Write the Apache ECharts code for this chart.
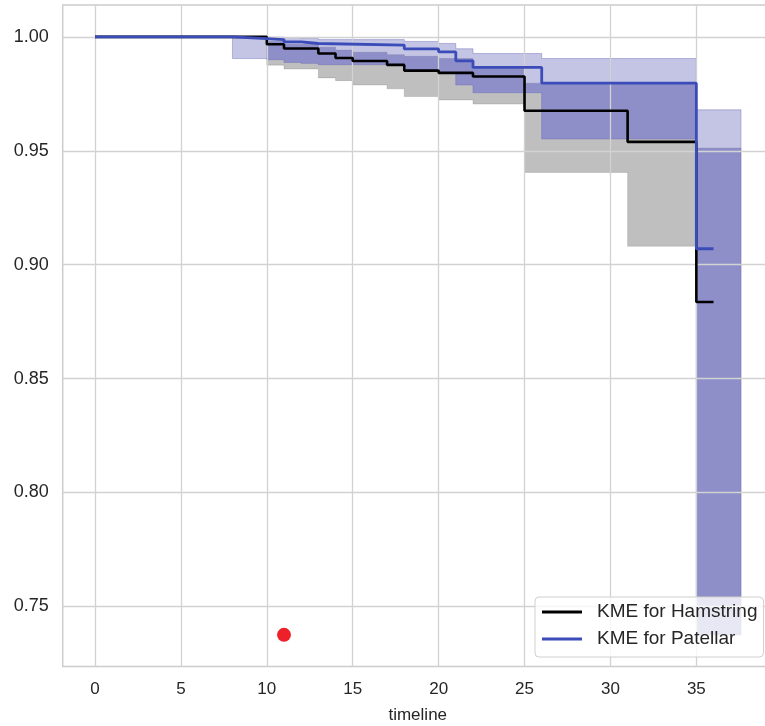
<!DOCTYPE html>
<html><head><meta charset="utf-8">
<script src="https://cdn.jsdelivr.net/npm/echarts@6/dist/echarts.min.js"></script>
<style>html,body{margin:0;padding:0;background:#fff}#chart{width:765px;height:726px}</style>
</head><body><div id="chart"></div>
<script>
// ---- data ----
const xTickValues = [0, 5, 10, 15, 20, 25, 30, 35];
const yTickValues = [0.75, 0.80, 0.85, 0.90, 0.95, 1.00];

const hamTimes = [0, 10, 11, 13, 14, 15, 17, 18, 20, 22, 25, 31, 35, 36];
const hamSurv  = [1.0, 0.9968, 0.9949, 0.9927, 0.9907, 0.9894, 0.9877, 0.9852, 0.9842, 0.9826, 0.9676, 0.9539, 0.8836, 0.8836];

const patTimes = [0, 8, 10, 11, 12, 13, 18, 20, 21, 22, 26, 35, 36];
const patSurv  = [1.0, 0.9992, 0.9988, 0.9978, 0.9971, 0.9964, 0.9947, 0.9934, 0.9895, 0.9866, 0.9797, 0.9070, 0.9070];

const hamCiTimes = [10, 11, 13, 14, 15, 17, 18, 20, 22, 25, 31, 35, 37.6];
const hamCiLower = [0.9876, 0.9859, 0.9820, 0.9808, 0.9789, 0.9772, 0.9738, 0.9723, 0.9705, 0.9405, 0.9081, 0.7375];
const hamCiUpper = [0.9980, 0.9968, 0.9955, 0.9942, 0.9933, 0.9922, 0.9915, 0.9905, 0.9865, 0.9797, 0.9797, 0.9512];

const patCiTimes = [8, 10, 11, 12, 13, 18, 20, 21, 22, 26, 35, 37.6];
const patCiLower = [0.9905, 0.9900, 0.9888, 0.9884, 0.9878, 0.9855, 0.9840, 0.9789, 0.9755, 0.9552, 0.7375];
const patCiUpper = [1.0000, 0.9999, 0.9997, 0.9993, 0.9988, 0.9980, 0.9971, 0.9948, 0.9927, 0.9905, 0.9680];

const markerPoint = [[11, 0.7375]];

const seriesNames = ['KME for Hamstring', 'KME for Patellar'];

// ---- helpers ----
const FONT = 'Liberation Sans, Arial, sans-serif';
const TXT = '#262626';

function pairs(ts, vs) { return ts.map((t, i) => [t, vs[i]]); }

function valAt(times, arr, t) {
  for (let i = 0; i < arr.length; i++) {
    if (t >= times[i] && t < times[i + 1]) return arr[i];
  }
  return null;
}

// overlap of the two confidence bands (where both are drawn)
function overlapBand() {
  const start = Math.max(hamCiTimes[0], patCiTimes[0]);
  const end = Math.min(hamCiTimes[hamCiTimes.length - 1], patCiTimes[patCiTimes.length - 1]);
  const ts = Array.from(new Set([...hamCiTimes, ...patCiTimes]))
    .filter(t => t >= start && t <= end).sort((a, b) => a - b);
  const lo = [], up = [];
  for (let k = 0; k < ts.length - 1; k++) {
    const m = (ts[k] + ts[k + 1]) / 2;
    const l = Math.max(valAt(hamCiTimes, hamCiLower, m), valAt(patCiTimes, patCiLower, m));
    let u = Math.min(valAt(hamCiTimes, hamCiUpper, m), valAt(patCiTimes, patCiUpper, m));
    if (u < l) u = l;
    lo.push(l); up.push(u);
  }
  return { ts, lo, up };
}
const ov = overlapBand();

function stepPolygon(api, times, lows, ups) {
  const pts = [];
  for (let i = 0; i < lows.length; i++) {
    pts.push(api.coord([times[i], ups[i]]));
    pts.push(api.coord([times[i + 1], ups[i]]));
  }
  for (let i = lows.length - 1; i >= 0; i--) {
    pts.push(api.coord([times[i + 1], lows[i]]));
    pts.push(api.coord([times[i], lows[i]]));
  }
  return pts;
}

function bandSeries(times, lows, ups, fill, stroke, z) {
  return {
    type: 'custom', z: z, silent: true, clip: true,
    data: [[times[0], lows[0]]],
    renderItem: (params, api) => ({
      type: 'polygon',
      shape: { points: stepPolygon(api, times, lows, ups) },
      style: { fill: fill, stroke: stroke, lineWidth: 1 }
    })
  };
}

const chart = echarts.init(document.getElementById('chart'), null, { renderer: 'canvas' });

chart.setOption({
  animation: false,
  backgroundColor: '#ffffff',
  grid: {
    left: 62.7, width: 710.1, top: 5, height: 661.5,
    outerBoundsMode: 'none', containLabel: false,
    show: true, borderColor: '#cccccc', borderWidth: 1.5, backgroundColor: 'transparent'
  },
  xAxis: {
    type: 'value', min: -1.88, max: 39.45,
    name: 'timeline', nameLocation: 'middle', nameGap: 40,
    nameTextStyle: { fontFamily: FONT, fontSize: 17, color: TXT },
    axisLine: { show: false }, axisTick: { show: false }, splitLine: { show: false },
    axisLabel: { customValues: xTickValues, fontFamily: FONT, fontSize: 17, color: TXT, margin: 14 }
  },
  yAxis: {
    type: 'value', min: 0.7236, max: 1.0140,
    axisLine: { show: false }, axisTick: { show: false }, splitLine: { show: false },
    axisLabel: {
      customValues: yTickValues, fontFamily: FONT, fontSize: 18, color: TXT, margin: 14,
      formatter: v => v.toFixed(2)
    }
  },
  legend: {
    data: seriesNames, selectedMode: false, z: 20,
    orient: 'vertical', left: 535, top: 597,
    icon: 'rect', itemWidth: 40, itemHeight: 3, itemGap: 7,
    padding: [5, 6, 8, 7],
    backgroundColor: 'rgba(255,255,255,0.8)', borderColor: '#d0d0d0', borderWidth: 1, borderRadius: 4,
    textStyle: { fontFamily: FONT, fontSize: 19, color: TXT, lineHeight: 20, padding: [0, 0, 0, 10] }
  },
  series: [
    {
      name: '__grid', type: 'line', data: [], z: 1, silent: true,
      markLine: {
        silent: true, symbol: ['none', 'none'], label: { show: false }, animation: false,
        lineStyle: { color: '#d2d2d2', width: 1.3, type: 'solid' },
        emphasis: { disabled: true },
        data: [...xTickValues.map(v => ({ xAxis: v })), ...yTickValues.map(v => ({ yAxis: v }))]
      }
    },
    bandSeries(hamCiTimes, hamCiLower, hamCiUpper, 'rgba(0,0,0,0.25)', 'rgba(0,0,0,0.12)', 2),
    bandSeries(patCiTimes, patCiLower, patCiUpper, 'rgba(107,107,190,0.4)', 'rgba(80,80,170,0.35)', 3),
    bandSeries(ov.ts, ov.lo, ov.up, 'rgba(127,127,209,0.5)', 'rgba(0,0,0,0)', 4),
    {
      name: seriesNames[0], type: 'line', step: 'end', z: 5,
      data: pairs(hamTimes, hamSurv), showSymbol: false, symbol: 'none',
      itemStyle: { color: '#000000' },
      lineStyle: { color: '#000000', width: 2.6 }
    },
    {
      name: seriesNames[1], type: 'line', step: 'end', z: 6,
      data: pairs(patTimes, patSurv), showSymbol: false, symbol: 'none',
      itemStyle: { color: '#3b4cb8' },
      lineStyle: { color: '#3b4cb8', width: 2.8 }
    },
    {
      name: '__marker', type: 'scatter', z: 7, silent: true,
      data: markerPoint, symbolSize: 14,
      itemStyle: { color: '#ee2029', opacity: 1 }
    }
  ]
});
</script>
</body></html>
